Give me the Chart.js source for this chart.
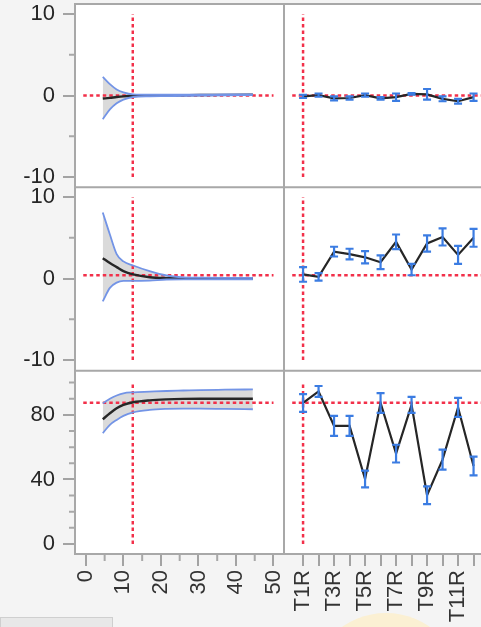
<!DOCTYPE html>
<html>
<head>
<meta charset="utf-8">
<script src="https://cdn.jsdelivr.net/npm/chart.js@4.4.1/dist/chart.umd.min.js"></script>
<style>
  html, body { margin: 0; padding: 0; background: #f4f4f4; overflow: hidden; }
  #wrap { position: relative; width: 481px; height: 627px; overflow: hidden; }
  #profiler { position: absolute; left: 0; top: 0; }
  .tab { position: absolute; left: 0; top: 617px; width: 111px; height: 14px; background: #e8e8e8; border: 1px solid #cfcfcf; }
  .glow { position: absolute; left: 310px; top: 613px; width: 152px; height: 152px; border-radius: 50%; background: #fbf0d3; }
</style>
</head>
<body>
<div id="wrap">
  <div class="glow"></div>
  <div class="tab"></div>
  <canvas id="profiler" width="481" height="627"></canvas>
</div>
<script>
// factor levels of the right column
const levels = ['T1R', 'T2R', 'T3R', 'T4R', 'T5R', 'T6R', 'T7R', 'T8R', 'T9R', 'T10R', 'T11R', 'T12R'];

// continuous factor (left column)
const curveX = [4.5, 6.4, 8.2, 10, 12.6, 17, 21.5, 26, 30.5, 37, 44.5];

const r1Pred  = [-0.37, -0.28, -0.18, -0.1, -0.03, 0, 0.02, 0.04, 0.06, 0.08, 0.1];
const r1Upper = [2.3, 1.4, 0.75, 0.4, 0.15, 0.1, 0.1, 0.11, 0.12, 0.13, 0.15];
const r1Lower = [-2.9, -1.7, -0.95, -0.5, -0.18, -0.1, -0.07, -0.04, -0.01, 0.02, 0.05];

const r2Pred  = [2.5, 1.9, 1.4, 0.9, 0.5, 0.16, 0.05, 0.02, 0, 0, 0];
const r2Upper = [8.1, 5.4, 3.0, 2.1, 1.6, 0.9, 0.37, 0.15, 0.1, 0.08, 0.08];
const r2Lower = [-2.8, -1.15, -0.5, -0.3, -0.3, -0.25, -0.12, -0.1, -0.1, -0.1, -0.1];

const r3Pred  = [77.3, 81, 84.1, 86.2, 87.8, 89, 89.6, 89.9, 90, 90, 90];
const r3Upper = [87.2, 90, 92, 93.4, 94, 94.4, 94.8, 95.1, 95.4, 95.6, 95.8];
const r3Lower = [68.7, 73.8, 76.9, 79.4, 81.6, 83.1, 83.7, 83.9, 83.9, 83.7, 83.5];

// means and error bar half widths per level (right column)
const r1Mean = [-0.1, 0.05, -0.35, -0.3, 0.05, -0.35, -0.2, 0.2, 0.15, -0.4, -0.7, -0.2];
const r1Err  = [0.2, 0.2, 0.25, 0.2, 0.2, 0.15, 0.45, 0.1, 0.65, 0.3, 0.3, 0.45];
const r2Mean = [0.5, 0.2, 3.3, 3.0, 2.6, 2.0, 4.5, 1.1, 4.3, 5.1, 2.9, 5.0];
const r2Err  = [0.9, 0.45, 0.6, 0.65, 0.75, 0.85, 0.9, 0.7, 1.0, 1.05, 1.1, 1.1];
const r3Mean = [87.4, 94.5, 73.2, 73.2, 40.3, 87.4, 56, 86.2, 30.2, 52.3, 84.6, 48.3];
const r3Err  = [5.5, 3.4, 6.2, 6.2, 5.2, 6.1, 5.5, 5, 5.5, 6.2, 5.9, 5.8];

// current settings (red crosshairs)
const crossX = 12.5;
const crossLevel = 1;
const crossY = [0, 0.4, 87.5];
const crossSpanY = [[-10, 10], [-10, 10], [0, 100]];
const crossSpanLeft = [-0.7, 50];
const crossSpanRight = [0.3, 13];

// axis ticks
const minorTicks = { y1: [-5, 5], y2: [-5, 5], y3: [10, 20, 30, 50, 60, 70, 90, 100], x1: [5, 15, 25, 35, 45] };

const font = { family: "'Liberation Sans', Arial, sans-serif", size: 22 };
const blue = '#7394e6';
const red = '#f2304a';

function curve(ys) { return curveX.map((x, i) => ({ x: x, y: ys[i] })); }
function byLevel(ys) { return ys.map((y, i) => ({ x: i + 1, y: y })); }

const rows = [
  { y: 'y1', pred: r1Pred, up: r1Upper, lo: r1Lower, mean: r1Mean, err: r1Err },
  { y: 'y2', pred: r2Pred, up: r2Upper, lo: r2Lower, mean: r2Mean, err: r2Err },
  { y: 'y3', pred: r3Pred, up: r3Upper, lo: r3Lower, mean: r3Mean, err: r3Err }
];

const datasets = [];
rows.forEach((r, k) => {
  const base = { yAxisID: r.y, pointRadius: 0, fill: false };
  datasets.push({ ...base, xAxisID: 'x1', data: curve(r.up), borderColor: blue, borderWidth: 1.8,
    cubicInterpolationMode: 'monotone', fill: '+1', backgroundColor: '#dadada' });
  datasets.push({ ...base, xAxisID: 'x1', data: curve(r.lo), borderColor: blue, borderWidth: 1.8,
    cubicInterpolationMode: 'monotone' });
  datasets.push({ ...base, xAxisID: 'x1', data: curve(r.pred), borderColor: '#262626', borderWidth: 2.4,
    cubicInterpolationMode: 'monotone' });
  datasets.push({ ...base, xAxisID: 'x2', data: byLevel(r.mean), borderColor: '#262626', borderWidth: 2.2 });
  // crosshairs
  const dash = { borderColor: red, borderWidth: 2.5, borderDash: [3.5, 3] };
  datasets.push({ ...base, ...dash, xAxisID: 'x1',
    data: [{ x: crossSpanLeft[0], y: crossY[k] }, { x: crossSpanLeft[1], y: crossY[k] }] });
  datasets.push({ ...base, ...dash, xAxisID: 'x1',
    data: [{ x: crossX, y: crossSpanY[k][0] }, { x: crossX, y: crossSpanY[k][1] }] });
  datasets.push({ ...base, ...dash, xAxisID: 'x2',
    data: [{ x: crossSpanRight[0], y: crossY[k] }, { x: crossSpanRight[1], y: crossY[k] }] });
  datasets.push({ ...base, ...dash, xAxisID: 'x2',
    data: [{ x: crossLevel, y: crossSpanY[k][0] }, { x: crossLevel, y: crossSpanY[k][1] }] });
});

function rowAxis(weight, min, max, step) {
  return {
    type: 'linear', position: 'left', stack: 'rows', stackWeight: 1, weight: weight,
    min: min, max: max,
    ticks: { stepSize: step, includeBounds: false, padding: 8, color: '#262626', font: font },
    grid: { drawOnChartArea: false, tickLength: 12, color: '#a3a3a3', lineWidth: 2 },
    border: { display: false },
    afterFit(s) { s.width = 75; s.paddingTop = 0; s.paddingBottom = 0; }
  };
}

const panels = {
  id: 'panels',
  beforeDraw(chart) {
    const { ctx, chartArea } = chart;
    ctx.save();
    ctx.fillStyle = '#ffffff';
    ctx.fillRect(chartArea.left, chartArea.top, chartArea.right - chartArea.left, chartArea.bottom - chartArea.top);
    ctx.restore();
  },
  afterDatasetsDraw(chart) {
    const { ctx, scales } = chart;
    ctx.save();
    ctx.strokeStyle = '#3b7ce2';
    ctx.lineWidth = 2.2;
    rows.forEach(r => {
      const ys = scales[r.y];
      r.mean.forEach((m, i) => {
        const x = scales.x2.getPixelForValue(i + 1);
        const top = ys.getPixelForValue(m + r.err[i]);
        const bot = ys.getPixelForValue(m - r.err[i]);
        ctx.beginPath();
        ctx.moveTo(x, top); ctx.lineTo(x, bot);
        ctx.moveTo(x - 4, top); ctx.lineTo(x + 4, top);
        ctx.moveTo(x - 4, bot); ctx.lineTo(x + 4, bot);
        ctx.stroke();
      });
    });
    ctx.restore();
  },
  afterDraw(chart) {
    const { ctx, chartArea, scales } = chart;
    ctx.save();
    ctx.strokeStyle = '#a8a8a8';
    ctx.lineWidth = 2;
    ctx.beginPath();
    [scales.y1.top, scales.y1.bottom, scales.y2.bottom, scales.y3.bottom].forEach(y => {
      ctx.moveTo(chartArea.left - 1, y); ctx.lineTo(chartArea.right, y);
    });
    [scales.x1.left, scales.x1.right].forEach(x => {
      ctx.moveTo(x, chartArea.top); ctx.lineTo(x, chartArea.bottom + 1);
    });
    ctx.stroke();
    ctx.beginPath();
    ['y1', 'y2', 'y3'].forEach(id => {
      const s = scales[id];
      minorTicks[id].forEach(v => {
        const y = s.getPixelForValue(v);
        ctx.moveTo(s.right - 6, y); ctx.lineTo(s.right, y);
      });
    });
    minorTicks.x1.forEach(v => {
      const x = scales.x1.getPixelForValue(v);
      ctx.moveTo(x, scales.x1.top); ctx.lineTo(x, scales.x1.top + 7);
    });
    ctx.stroke();
    ctx.restore();
  }
};

new Chart(document.getElementById('profiler'), {
  type: 'line',
  data: { datasets: datasets },
  plugins: [panels],
  options: {
    responsive: false,
    animation: false,
    events: [],
    layout: { padding: { top: 4, left: 0, right: 0, bottom: 0 } },
    plugins: {
      legend: { display: false },
      tooltip: { enabled: false },
      filler: { drawTime: 'beforeDatasetsDraw' }
    },
    scales: {
      x1: {
        type: 'linear', position: 'bottom', stack: 'cols', stackWeight: 209, weight: 1,
        min: -2.9, max: 52.8,
        ticks: { stepSize: 10, includeBounds: false, autoSkip: false, minRotation: 90, maxRotation: 90,
          padding: 4, color: '#333', font: font },
        grid: { drawOnChartArea: false, tickLength: 12, color: '#a3a3a3', lineWidth: 2 },
        border: { display: false },
        afterFit(s) { s.height = 73; s.paddingLeft = 0; s.paddingRight = 0; }
      },
      x2: {
        type: 'linear', position: 'bottom', stack: 'cols', stackWeight: 197, weight: 2,
        min: -0.23, max: 12.48,
        afterBuildTicks(s) { s.ticks = s.ticks.filter(t => t.value >= 1 && t.value <= levels.length); },
        ticks: { stepSize: 1, includeBounds: false, autoSkip: false, minRotation: 90, maxRotation: 90,
          padding: 4, color: '#333', font: font,
          callback: v => (v % 2 === 1 ? levels[v - 1] : '') },
        grid: { drawOnChartArea: false, tickLength: 12, color: '#a3a3a3', lineWidth: 2 },
        border: { display: false },
        afterFit(s) { s.height = 73; s.paddingLeft = 0; s.paddingRight = 0; }
      },
      y1: rowAxis(3, -11.26, 11.23, 10),
      y2: rowAxis(2, -11.31, 11.19, 10),
      y3: rowAxis(1, -6.2, 107.4, 40)
    }
  }
});
</script>
</body>
</html>
